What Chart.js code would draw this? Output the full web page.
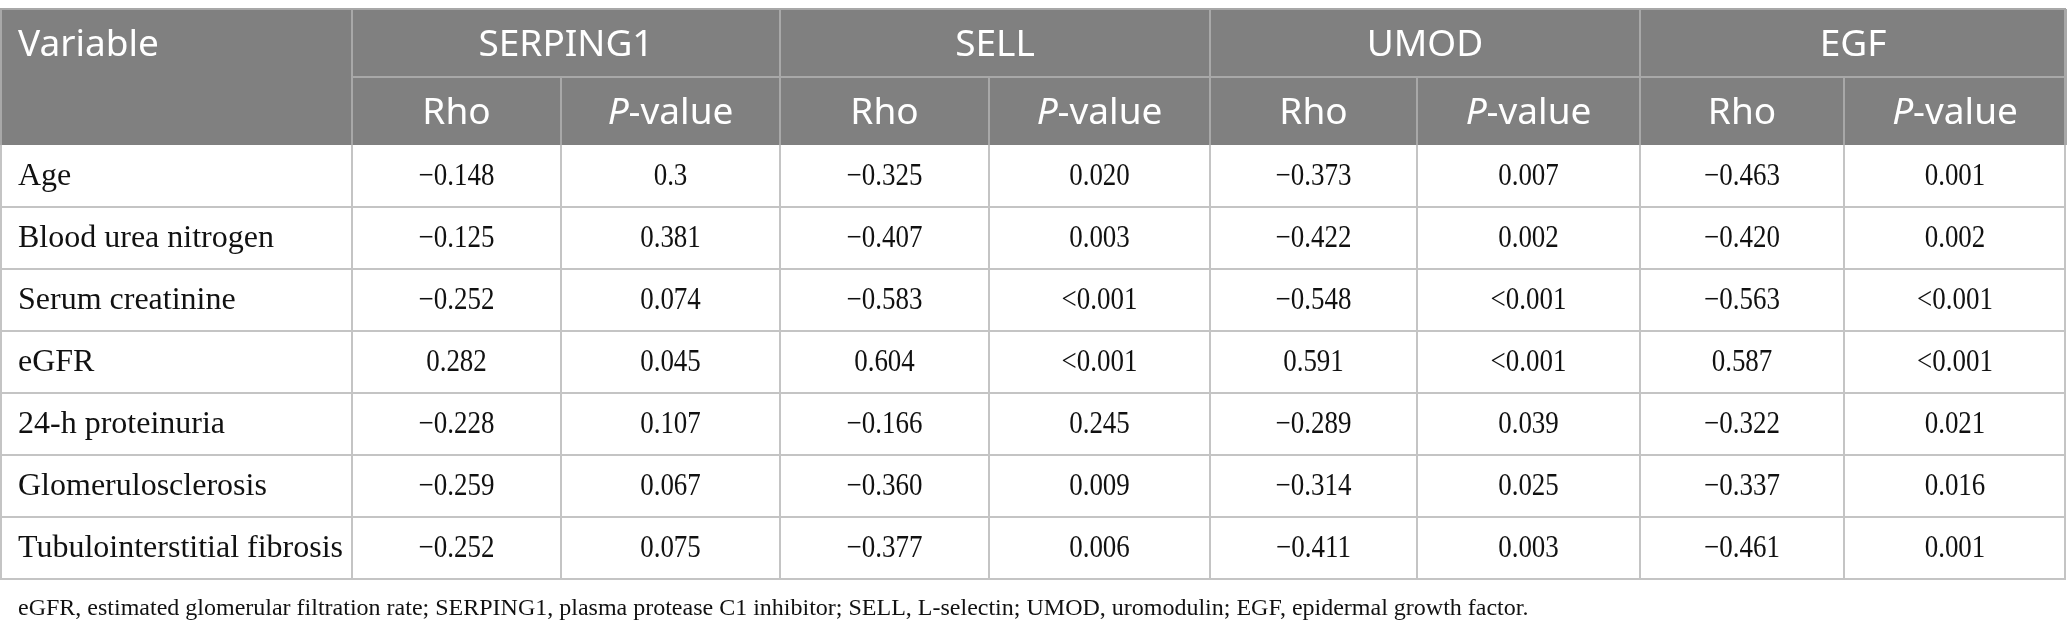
<!DOCTYPE html>
<html>
<head>
<meta charset="utf-8">
<script src="https://cdn.jsdelivr.net/npm/chart.js@4"></script>
<style>
  html, body { margin: 0; padding: 0; background: #fff; }
  #wrap { width: 2068px; height: 635px; }
</style>
</head>
<body>
<div id="wrap"><canvas id="tbl" width="2068" height="635"></canvas></div>
<script>
// table content
const variables = ['Age', 'Blood urea nitrogen', 'Serum creatinine', 'eGFR', '24-h proteinuria', 'Glomerulosclerosis', 'Tubulointerstitial fibrosis'];
const genes = ['SERPING1', 'SELL', 'UMOD', 'EGF'];
const serping1Rho = [-0.148, -0.125, -0.252, 0.282, -0.228, -0.259, -0.252];
const serping1P = ['0.3', '0.381', '0.074', '0.045', '0.107', '0.067', '0.075'];
const sellRho = [-0.325, -0.407, -0.583, 0.604, -0.166, -0.360, -0.377];
const sellP = ['0.020', '0.003', '<0.001', '<0.001', '0.245', '0.009', '0.006'];
const umodRho = [-0.373, -0.422, -0.548, 0.591, -0.289, -0.314, -0.411];
const umodP = ['0.007', '0.002', '<0.001', '<0.001', '0.039', '0.025', '0.003'];
const egfRho = [-0.463, -0.420, -0.563, 0.587, -0.322, -0.337, -0.461];
const egfP = ['0.001', '0.002', '<0.001', '<0.001', '0.021', '0.016', '0.001'];
const footnote = 'eGFR, estimated glomerular filtration rate; SERPING1, plasma protease C1 inhibitor; SELL, L-selectin; UMOD, uromodulin; EGF, epidermal growth factor.';

const rhoCols = [serping1Rho, sellRho, umodRho, egfRho];
const pCols = [serping1P, sellP, umodP, egfP];

// layout (in scale units)
const colWidths = [352, 209, 219, 209, 221, 207, 223, 204, 222];
const tableTop = 9;
const headRowH = 68;
const bodyRowH = 62;

const colEdges = [0];
colWidths.forEach(w => colEdges.push(colEdges[colEdges.length - 1] + w));
const headBottom = tableTop + 2 * headRowH;
const rowEdges = variables.map((_, i) => headBottom + i * bodyRowH);
rowEdges.push(headBottom + variables.length * bodyRowH);

const fmtRho = v => (v < 0 ? '\u2212' : '') + Math.abs(v).toFixed(3);

const HEAD_FONT = '"Noto Sans", "Open Sans", sans-serif';
const BODY_FONT = '"Liberation Serif", "DejaVu Serif", serif';
const HEAD_SIZE = 37;

// narrow, tall numerals like the printed table
function numText(ctx, s, x, y) {
  ctx.save();
  ctx.translate(x, y);
  ctx.scale(0.87, 1);
  ctx.fillText(s, 0, 0);
  ctx.restore();
}

const tablePlugin = {
  id: 'tablePlugin',
  afterDraw(chart) {
    const ctx = chart.ctx;
    const xs = chart.scales.x;
    const ys = chart.scales.y;
    const X = v => xs.getPixelForValue(v);
    const Y = v => ys.getPixelForValue(v);
    const left = X(colEdges[0]);
    const right = X(colEdges[colEdges.length - 1]);

    ctx.save();

    // header background
    ctx.fillStyle = '#808080';
    ctx.fillRect(left, Y(tableTop), right - left, Y(headBottom) - Y(tableTop));

    // header lines
    ctx.strokeStyle = '#a8a8a8';
    ctx.lineWidth = 2;
    ctx.beginPath();
    ctx.moveTo(left, Y(tableTop)); ctx.lineTo(right, Y(tableTop));
    ctx.moveTo(X(colEdges[1]), Y(tableTop + headRowH)); ctx.lineTo(right, Y(tableTop + headRowH));
    for (let g = 0; g <= genes.length; g++) {
      const x = X(colEdges[1 + g * 2]);
      ctx.moveTo(x, Y(tableTop)); ctx.lineTo(x, Y(headBottom));
    }
    for (let g = 0; g < genes.length; g++) {
      const x = X(colEdges[2 + g * 2]);
      ctx.moveTo(x, Y(tableTop + headRowH)); ctx.lineTo(x, Y(headBottom));
    }
    ctx.moveTo(left + 1, Y(tableTop)); ctx.lineTo(left + 1, Y(headBottom));
    ctx.moveTo(right - 1, Y(tableTop)); ctx.lineTo(right - 1, Y(headBottom));
    ctx.stroke();

    // body grid
    ctx.strokeStyle = '#c4c4c4';
    ctx.lineWidth = 2;
    ctx.beginPath();
    rowEdges.forEach((r, i) => {
      if (i === 0) return;
      ctx.moveTo(left, Y(r)); ctx.lineTo(right, Y(r));
    });
    colEdges.forEach((c, i) => {
      let x = X(c);
      if (i === 0) x += 1;
      if (i === colEdges.length - 1) x -= 1;
      ctx.moveTo(x, Y(rowEdges[0])); ctx.lineTo(x, Y(rowEdges[rowEdges.length - 1]));
    });
    ctx.stroke();

    // header text
    const hf = HEAD_SIZE + 'px ' + HEAD_FONT;
    ctx.fillStyle = '#ffffff';
    ctx.textBaseline = 'middle';
    ctx.font = '400 ' + hf;
    const h1 = Y(tableTop + headRowH / 2) + 2;
    const h2 = Y(tableTop + headRowH * 1.5) + 2;
    ctx.textAlign = 'left';
    ctx.fillText('Variable', X(18), h1);
    ctx.textAlign = 'center';
    genes.forEach((g, i) => {
      const cx = (X(colEdges[1 + i * 2]) + X(colEdges[3 + i * 2])) / 2;
      ctx.fillText(g, cx, h1);
    });
    genes.forEach((g, i) => {
      const rx = (X(colEdges[1 + i * 2]) + X(colEdges[2 + i * 2])) / 2;
      ctx.textAlign = 'center';
      ctx.font = '400 ' + hf;
      ctx.fillText('Rho', rx, h2);
      // P-value with italic P
      const px = (X(colEdges[2 + i * 2]) + X(colEdges[3 + i * 2])) / 2;
      ctx.font = 'italic 400 ' + hf;
      const wP = ctx.measureText('P').width;
      ctx.font = '400 ' + hf;
      const wRest = ctx.measureText('-value').width;
      const start = px - (wP + wRest) / 2;
      ctx.textAlign = 'left';
      ctx.font = 'italic 400 ' + hf;
      ctx.fillText('P', start, h2);
      ctx.font = '400 ' + hf;
      ctx.fillText('-value', start + wP, h2);
    });

    // body text
    ctx.fillStyle = '#111111';
    variables.forEach((v, r) => {
      const cy = (Y(rowEdges[r]) + Y(rowEdges[r + 1])) / 2 + 1;
      ctx.textAlign = 'left';
      ctx.font = '32px ' + BODY_FONT;
      ctx.fillText(v, X(18), cy);
      ctx.textAlign = 'center';
      ctx.font = '31px ' + BODY_FONT;
      genes.forEach((g, i) => {
        const rx = (X(colEdges[1 + i * 2]) + X(colEdges[2 + i * 2])) / 2;
        const px = (X(colEdges[2 + i * 2]) + X(colEdges[3 + i * 2])) / 2;
        numText(ctx, fmtRho(rhoCols[i][r]), rx, cy);
        numText(ctx, pCols[i][r], px, cy);
      });
    });

    // footnote
    ctx.textAlign = 'left';
    ctx.font = '24px ' + BODY_FONT;
    ctx.fillText(footnote, X(18), Y(609));

    ctx.restore();
  }
};

new Chart(document.getElementById('tbl'), {
  type: 'scatter',
  data: { datasets: [{ data: [] }] },
  options: {
    responsive: false,
    animation: false,
    devicePixelRatio: 1,
    layout: { padding: 0 },
    plugins: { legend: { display: false }, tooltip: { enabled: false } },
    scales: {
      x: { type: 'linear', min: 0, max: 2068, display: false },
      y: { type: 'linear', min: 0, max: 635, reverse: true, display: false }
    }
  },
  plugins: [tablePlugin]
});
</script>
</body>
</html>
